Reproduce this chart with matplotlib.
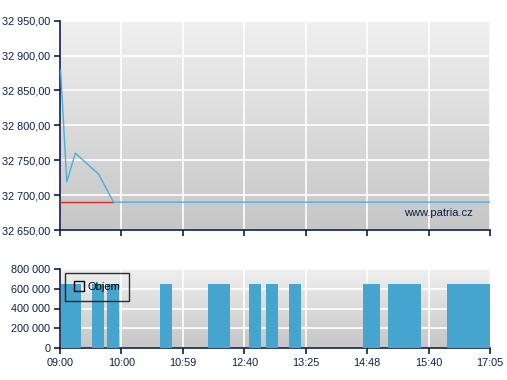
import matplotlib
matplotlib.use("Agg")
import matplotlib.pyplot as plt
import numpy as np
from matplotlib.ticker import FuncFormatter
from matplotlib.lines import Line2D

# data (x is the index position on the evenly spaced time axis)
time_labels = ["09:00", "10:00", "10:59", "12:40", "13:25", "14:48", "15:40", "17:05"]
price_x = [0.01, 0.11, 0.25, 0.63, 0.87, 7.0]
price_y = [32879, 32719, 32760, 32730, 32690, 32690]
prev_close = 32690
prev_close_x = [0.0, 0.87]
price_ticks = [32650, 32700, 32750, 32800, 32850, 32900, 32950]

vol_start = [0.01, 0.52, 0.77, 1.63, 2.41, 3.08, 3.35, 3.73, 4.93, 5.34, 6.30]
vol_end = [0.34, 0.71, 0.96, 1.82, 2.77, 3.27, 3.55, 3.92, 5.21, 5.87, 7.00]
vol_values = [650000] * 11
vol_ticks = [0, 200000, 400000, 600000, 800000]

navy = "#0b1f4f"
plt.rcParams["font.family"] = ["Liberation Sans", "DejaVu Sans"]
plt.rcParams["font.size"] = 7.8

fig = plt.figure(figsize=(5.07, 3.80), dpi=100)
ax1 = fig.add_axes([60 / 507, 150 / 380, 430 / 507, 209.3 / 380])
ax2 = fig.add_axes([60 / 507, 32 / 380, 430 / 507, 79 / 380])

grad = np.linspace(1, 0, 256).reshape(-1, 1)
cmap = matplotlib.colors.LinearSegmentedColormap.from_list("g", ["#c6c6c6", "#f0f0f0"])
for ax in (ax1, ax2):
    ax.imshow(grad, extent=[0, 1, 0, 1], transform=ax.transAxes, aspect="auto",
              cmap=cmap, zorder=0)
    ax.set_xlim(0, 7)
    ax.set_xticks(range(len(time_labels)))
    ax.grid(True, color="white", linewidth=1.2, zorder=1)
    for s in ("top", "right"):
        ax.spines[s].set_visible(False)
    for s in ("left", "bottom"):
        ax.spines[s].set_color(navy)
        ax.spines[s].set_linewidth(1.2)
    ax.tick_params(colors=navy, length=4, width=1.2, labelcolor=navy, pad=3)
    ax.set_axisbelow(True)

# price chart
ax1.plot(prev_close_x, [prev_close, prev_close], color="#e8262a", linewidth=1, zorder=3)
ax1.plot(price_x, price_y, color="#4aaede", linewidth=1, zorder=4)
ax1.set_ylim(32650, 32950)
ax1.set_yticks(price_ticks)
ax1.yaxis.set_major_formatter(FuncFormatter(
    lambda v, p: "{:,.2f}".format(v).replace(",", " ").replace(".", ",")))
ax1.set_xticklabels([])
ax1.text(0.96, 0.08, "www.patria.cz", transform=ax1.transAxes, ha="right", va="center",
         color=navy, fontsize=8, zorder=5)

# volume chart
left = np.array(vol_start)
width = np.array(vol_end) - left
ax2.bar(left, vol_values, width=width, align="edge", color="#46a5cf", zorder=3)
ax2.set_ylim(0, 800000)
ax2.set_yticks(vol_ticks)
ax2.yaxis.set_major_formatter(FuncFormatter(lambda v, p: "{:,.0f}".format(v).replace(",", " ")))
ax2.set_xticklabels(time_labels)

handle = Line2D([], [], marker="s", linestyle="none", markerfacecolor="none",
                markeredgecolor="black", markersize=6.5)
leg = ax2.legend([handle], ["Objem"], loc="upper left", bbox_to_anchor=(5 / 430, 0.95),
                 borderaxespad=0, frameon=True, fancybox=False, handletextpad=0.2,
                 borderpad=0.8, handlelength=1.0, fontsize=8)
leg.get_frame().set_edgecolor("black")
leg.get_frame().set_facecolor("none")
leg.get_frame().set_linewidth(1)

fig.savefig("out.png", dpi=100)
